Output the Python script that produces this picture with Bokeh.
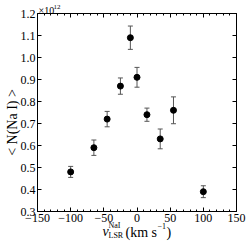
from bokeh.plotting import figure
from bokeh.models import (ColumnDataSource, Range1d, LinearAxis, FixedTicker,
                          Whisker, TeeHead, Label)
from bokeh.embed import file_html
from bokeh.resources import INLINE
import math

# ---- data ----
velocity = [-100, -65, -45, -25, -10, 0, 15, 35, 55, 100]
mean_N = [0.48, 0.59, 0.72, 0.87, 1.09, 0.91, 0.74, 0.63, 0.76, 0.39]   # x 1e12
err_N = [0.025, 0.035, 0.035, 0.037, 0.053, 0.045, 0.030, 0.045, 0.061, 0.027]

x_ticks = [-150, -100, -50, 0, 50, 100, 150]
x_tick_labels = ["\u2212150", "\u2212100", "\u221250", "0", "50", "100", "150"]
y_ticks = [0.3, 0.4, 0.5, 0.6, 0.7, 0.8, 0.9, 1.0, 1.1, 1.2]
y_tick_labels = ["0.3", "0.4", "0.5", "0.6", "0.7", "0.8", "0.9", "1.0", "1.1", "1.2"]
x_minor = list(range(-150, 151, 10))
x_lim = (-150, 150)
y_lim = (0.3, 1.2)

FONT = "Liberation Serif"

# ---- layout (pixels of the axes box inside the 249x249 canvas) ----
W = H = 249
BOX_L, BOX_R, BOX_T, BOX_B = 37, 236, 13, 211
sx = (x_lim[1] - x_lim[0]) / (BOX_R - BOX_L)
sy = (y_lim[1] - y_lim[0]) / (BOX_B - BOX_T)
x_range = Range1d(x_lim[0] - BOX_L * sx, x_lim[1] + (W - BOX_R) * sx)
y_range = Range1d(y_lim[0] - (H - BOX_B) * sy, y_lim[1] + BOX_T * sy)

src = ColumnDataSource(dict(
    x=velocity, y=mean_N,
    lo=[m - e for m, e in zip(mean_N, err_N)],
    hi=[m + e for m, e in zip(mean_N, err_N)],
))

p = figure(width=W, height=H, output_backend="svg", toolbar_location=None,
           x_range=x_range, y_range=y_range,
           x_axis_location=None, y_axis_location=None, min_border=0)
p.grid.visible = False
p.outline_line_color = None
p.background_fill_color = "white"
p.border_fill_color = "white"

def style(ax, labels=True, standoff=3):
    ax.axis_line_color = "black"
    ax.major_tick_in = 4
    ax.major_tick_out = 0
    ax.minor_tick_in = 2
    ax.minor_tick_out = 0
    ax.major_tick_line_color = "black"
    ax.minor_tick_line_color = "black"
    ax.major_label_text_font = FONT
    ax.major_label_text_font_size = "12px" if labels else "0px"
    ax.major_label_text_color = "black" if labels else None
    ax.major_label_standoff = standoff if labels else 0

xt = FixedTicker(ticks=x_ticks, minor_ticks=x_minor)
yt = FixedTicker(ticks=y_ticks, minor_ticks=[])

bottom = LinearAxis(ticker=xt, fixed_location=y_lim[0], bounds=x_lim)
style(bottom, standoff=2)
bottom.major_label_overrides = {t: l for t, l in zip(x_ticks, x_tick_labels)}
top = LinearAxis(ticker=xt, fixed_location=y_lim[1], bounds=x_lim)
style(top, labels=False)
left = LinearAxis(ticker=yt, fixed_location=x_lim[0], bounds=y_lim)
style(left, standoff=2)
left.major_label_overrides = {t: l for t, l in zip(y_ticks, y_tick_labels)}
right = LinearAxis(ticker=yt, fixed_location=x_lim[1], bounds=y_lim)
style(right, labels=False)

p.add_layout(bottom, "below")
p.add_layout(top, "above")
p.add_layout(left, "left")
p.add_layout(right, "right")

w = Whisker(base="x", lower="lo", upper="hi", source=src, dimension="height",
            line_color="#555555", line_width=1,
            upper_head=TeeHead(size=5, line_color="#555555", line_width=1),
            lower_head=TeeHead(size=5, line_color="#555555", line_width=1))
p.add_layout(w)
p.scatter("x", "y", source=src, size=6, color="black")

def lab(text, x, y, size, style_="normal", align="left", baseline="alphabetic", angle=0.0):
    # x from canvas left, y up from canvas bottom (frame fills the canvas)
    p.add_layout(Label(x=x, y=y, x_units="screen", y_units="screen", text=text,
                       text_font=FONT, text_font_size=size, text_font_style=style_,
                       text_align=align, text_baseline=baseline, angle=angle,
                       text_color="black"))

# x label: v^{NaI}_{LSR} (km s^-1)
lab("v", 102, 18, "14px", "italic")
lab("NaI", 108, 24, "8px")
lab("LSR", 108, 14, "8px")
lab("(km s", 125, 17, "14px")
lab("\u22121", 157, 24, "8px")
lab(")", 166, 17, "14px")

# y label
lab("< N(Na I) >", 12, 127, "14px", align="center", baseline="middle", angle=math.pi / 2)

# multiplier
lab("\u00d710", 38, 239, "10px")
lab("12", 53, 243, "7px")

open("out.html", "w").write(file_html(p, INLINE))
